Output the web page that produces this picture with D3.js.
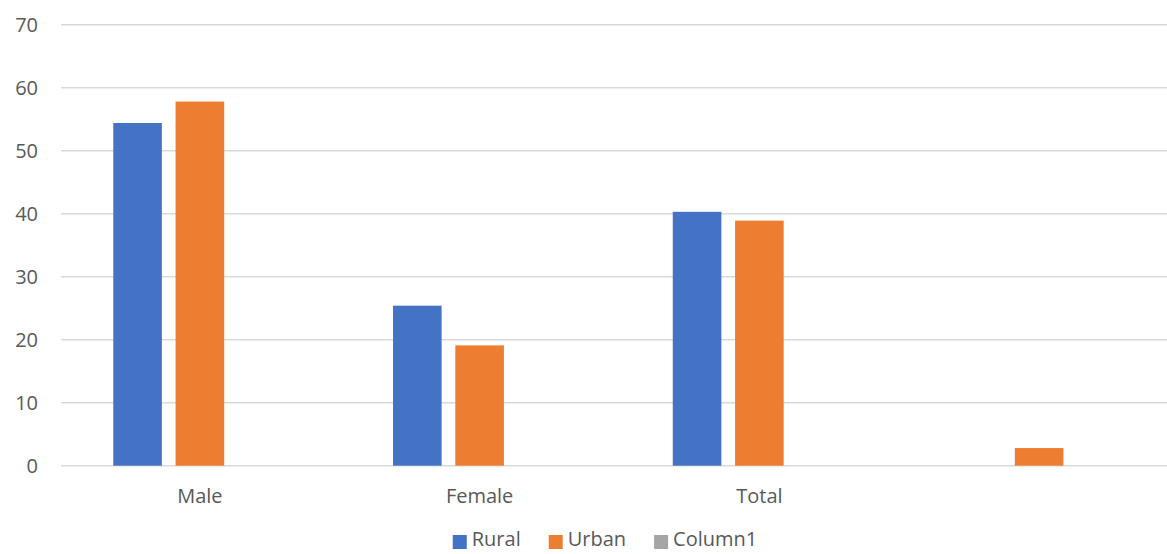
<!DOCTYPE html>
<html>
<head>
<meta charset="utf-8">
<script src="https://cdn.jsdelivr.net/npm/d3@7"></script>
<style>
  html, body { margin: 0; padding: 0; background: #fff; }
  svg { display: block; }
  text { font-family: "Open Sans", "Noto Sans", sans-serif; fill: #595959; }
</style>
</head>
<body>
<svg id="chart" width="1167" height="554"></svg>
<script>
// Chart data
const categories = ["Male", "Female", "Total", ""];
const seriesNames = ["Rural", "Urban", "Column1"];
const rural = [54.4, 25.4, 40.3, null];
const urban = [57.8, 19.1, 38.9, 2.8];
const column1 = [null, null, null, null];
const yTicks = [0, 10, 20, 30, 40, 50, 60, 70];

const seriesValues = [rural, urban, column1];
const colors = ["#4472C4", "#ED7D31", "#A5A5A5"];

const W = 1167, H = 554;
const svg = d3.select("#chart");

const x0 = d3.scaleBand().domain(d3.range(categories.length)).range([60, 1179]).padding(0);
const x1 = d3.scaleBand().domain(d3.range(seriesNames.length))
  .range([0, x0.bandwidth()]).paddingInner(0.22).paddingOuter(0.855);
const y = d3.scaleLinear().domain([0, 70]).range([465.7, 24.7]);

// Horizontal gridlines
svg.append("g").selectAll("line").data(yTicks).join("line")
  .attr("x1", 61).attr("x2", W)
  .attr("y1", d => y(d)).attr("y2", d => y(d))
  .attr("stroke", "#D9D9D9").attr("stroke-width", 1.5);

// Y tick labels
svg.append("g").selectAll("text").data(yTicks).join("text")
  .attr("x", 38).attr("y", d => y(d))
  .attr("dy", "0.36em")
  .attr("text-anchor", "end")
  .style("font-size", "20px")
  .text(d => d);

// Bars
const bars = [];
seriesValues.forEach((vals, si) => {
  vals.forEach((v, ci) => {
    if (v != null) bars.push({ si, ci, v });
  });
});
svg.append("g").selectAll("rect").data(bars).join("rect")
  .attr("x", d => x0(d.ci) + x1(d.si))
  .attr("width", x1.bandwidth())
  .attr("y", d => y(d.v))
  .attr("height", d => y(0) - y(d.v))
  .attr("fill", d => colors[d.si]);

// Category labels
svg.append("g").selectAll("text").data(categories).join("text")
  .attr("x", (d, i) => x0(i) + x0.bandwidth() / 2)
  .attr("y", 503)
  .attr("text-anchor", "middle")
  .style("font-size", "20px")
  .text(d => d);

// Legend
const legend = svg.append("g");
const items = legend.selectAll("g").data(seriesNames).join("g");
items.append("rect").attr("width", 14).attr("height", 14).attr("y", -11)
  .attr("fill", (d, i) => colors[i]);
items.append("text").attr("x", 19).attr("y", 0)
  .style("font-size", "20px").text(d => d);
let cx = 0;
items.each(function () {
  const g = d3.select(this);
  const tw = g.select("text").node().getComputedTextLength();
  g.attr("transform", `translate(${cx},0)`);
  cx += 19 + tw + 28;
});
const totalW = cx - 28;
legend.attr("transform", `translate(${605 - totalW / 2}, 546)`);
</script>
</body>
</html>
